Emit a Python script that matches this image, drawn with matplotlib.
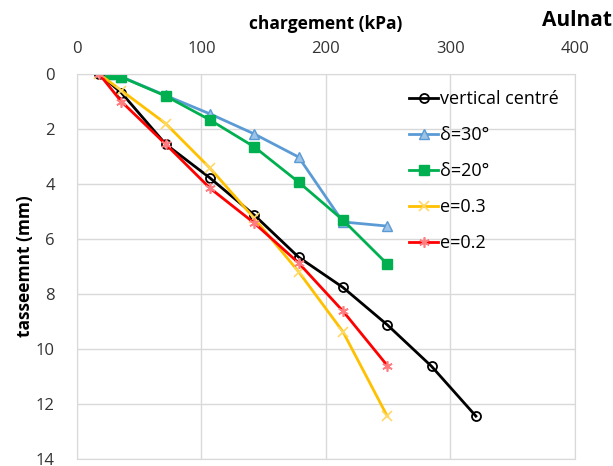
import matplotlib.pyplot as plt

# load steps (kPa) and settlements (mm)
load_vc = [17.8, 35.6, 71.2, 106.8, 142.4, 178.0, 213.6, 249.2, 284.8, 320.4]
sett_vc = [0.0, 0.68, 2.55, 3.78, 5.13, 6.66, 7.76, 9.12, 10.63, 12.44]

load_d30 = [26.7, 35.6, 71.2, 106.8, 142.4, 178.0, 213.6, 249.2]
sett_d30 = [0.0, 0.1, 0.78, 1.45, 2.18, 3.02, 5.38, 5.53]

load_d20 = [26.7, 35.6, 71.2, 106.8, 142.4, 178.0, 213.6, 249.2]
sett_d20 = [0.0, 0.11, 0.8, 1.67, 2.65, 3.93, 5.31, 6.91]

load_e03 = [17.8, 35.6, 71.2, 106.8, 142.4, 178.0, 213.6, 249.2]
sett_e03 = [0.0, 0.6, 1.8, 3.42, 5.25, 7.19, 9.37, 12.44]

load_e02 = [17.8, 35.6, 71.2, 106.8, 142.4, 178.0, 213.6, 249.2]
sett_e02 = [0.0, 1.0, 2.55, 4.15, 5.42, 6.87, 8.62, 10.6]

plt.rcParams['font.family'] = ['Open Sans', 'DejaVu Sans']

fig = plt.figure(figsize=(6.13, 4.66), dpi=100)
ax = fig.add_axes([0.1256, 0.015, 0.8124, 0.8262])

ax.plot(load_vc, sett_vc, color='black', lw=2, marker='o', ms=6.5,
        mfc='none', mec='black', mew=1.3, label='vertical centré')
ax.plot(load_d30, sett_d30, color='#5B9BD5', lw=2, marker='^', ms=7.5,
        mfc='#9DC3E6', mec='#5B9BD5', label='δ=30°')
ax.plot(load_d20, sett_d20, color='#00B050', lw=2, marker='s', ms=6.5,
        mfc='#00B050', mec='#00B050', label='δ=20°')
ax.plot(load_e03, sett_e03, color='#FFC000', lw=2, marker='x', ms=6.5,
        mec='#FFD966', mew=1.2, label='e=0.3')
ax.plot(load_e02, sett_e02, color='#FF0000', lw=2, marker=(6, 2, 0), ms=7.5,
        mec='#FF7C80', mew=1.2, label='e=0.2')

ax.set_xlim(0, 400)
ax.set_ylim(14, 0)
ax.set_xticks(range(0, 401, 100))
ax.set_yticks(range(0, 15, 2))
ax.xaxis.tick_top()
ax.xaxis.set_label_position('top')
ax.tick_params(length=0, labelsize=12, colors='#333333', pad=12)
ax.tick_params(axis='y', pad=16)
ax.grid(color='#D9D9D9', lw=1)
for s in ax.spines.values():
    s.set_color('#D9D9D9')

ax.set_xlabel('chargement (kPa)', fontsize=12.5, fontweight='bold', labelpad=9)
ax.set_ylabel('tasseemnt (mm)', fontsize=12.5, fontweight='bold', labelpad=1)
fig.text(0.998, 0.955, 'Aulnat', fontsize=15, fontweight='bold',
         ha='right', va='center')

ax.legend(loc='upper right', bbox_to_anchor=(1.0, 1.0), frameon=False,
          fontsize=13, labelspacing=1.0, handlelength=1.6, handletextpad=0.1,
          borderaxespad=0.5)

fig.savefig('out.png', dpi=100)
